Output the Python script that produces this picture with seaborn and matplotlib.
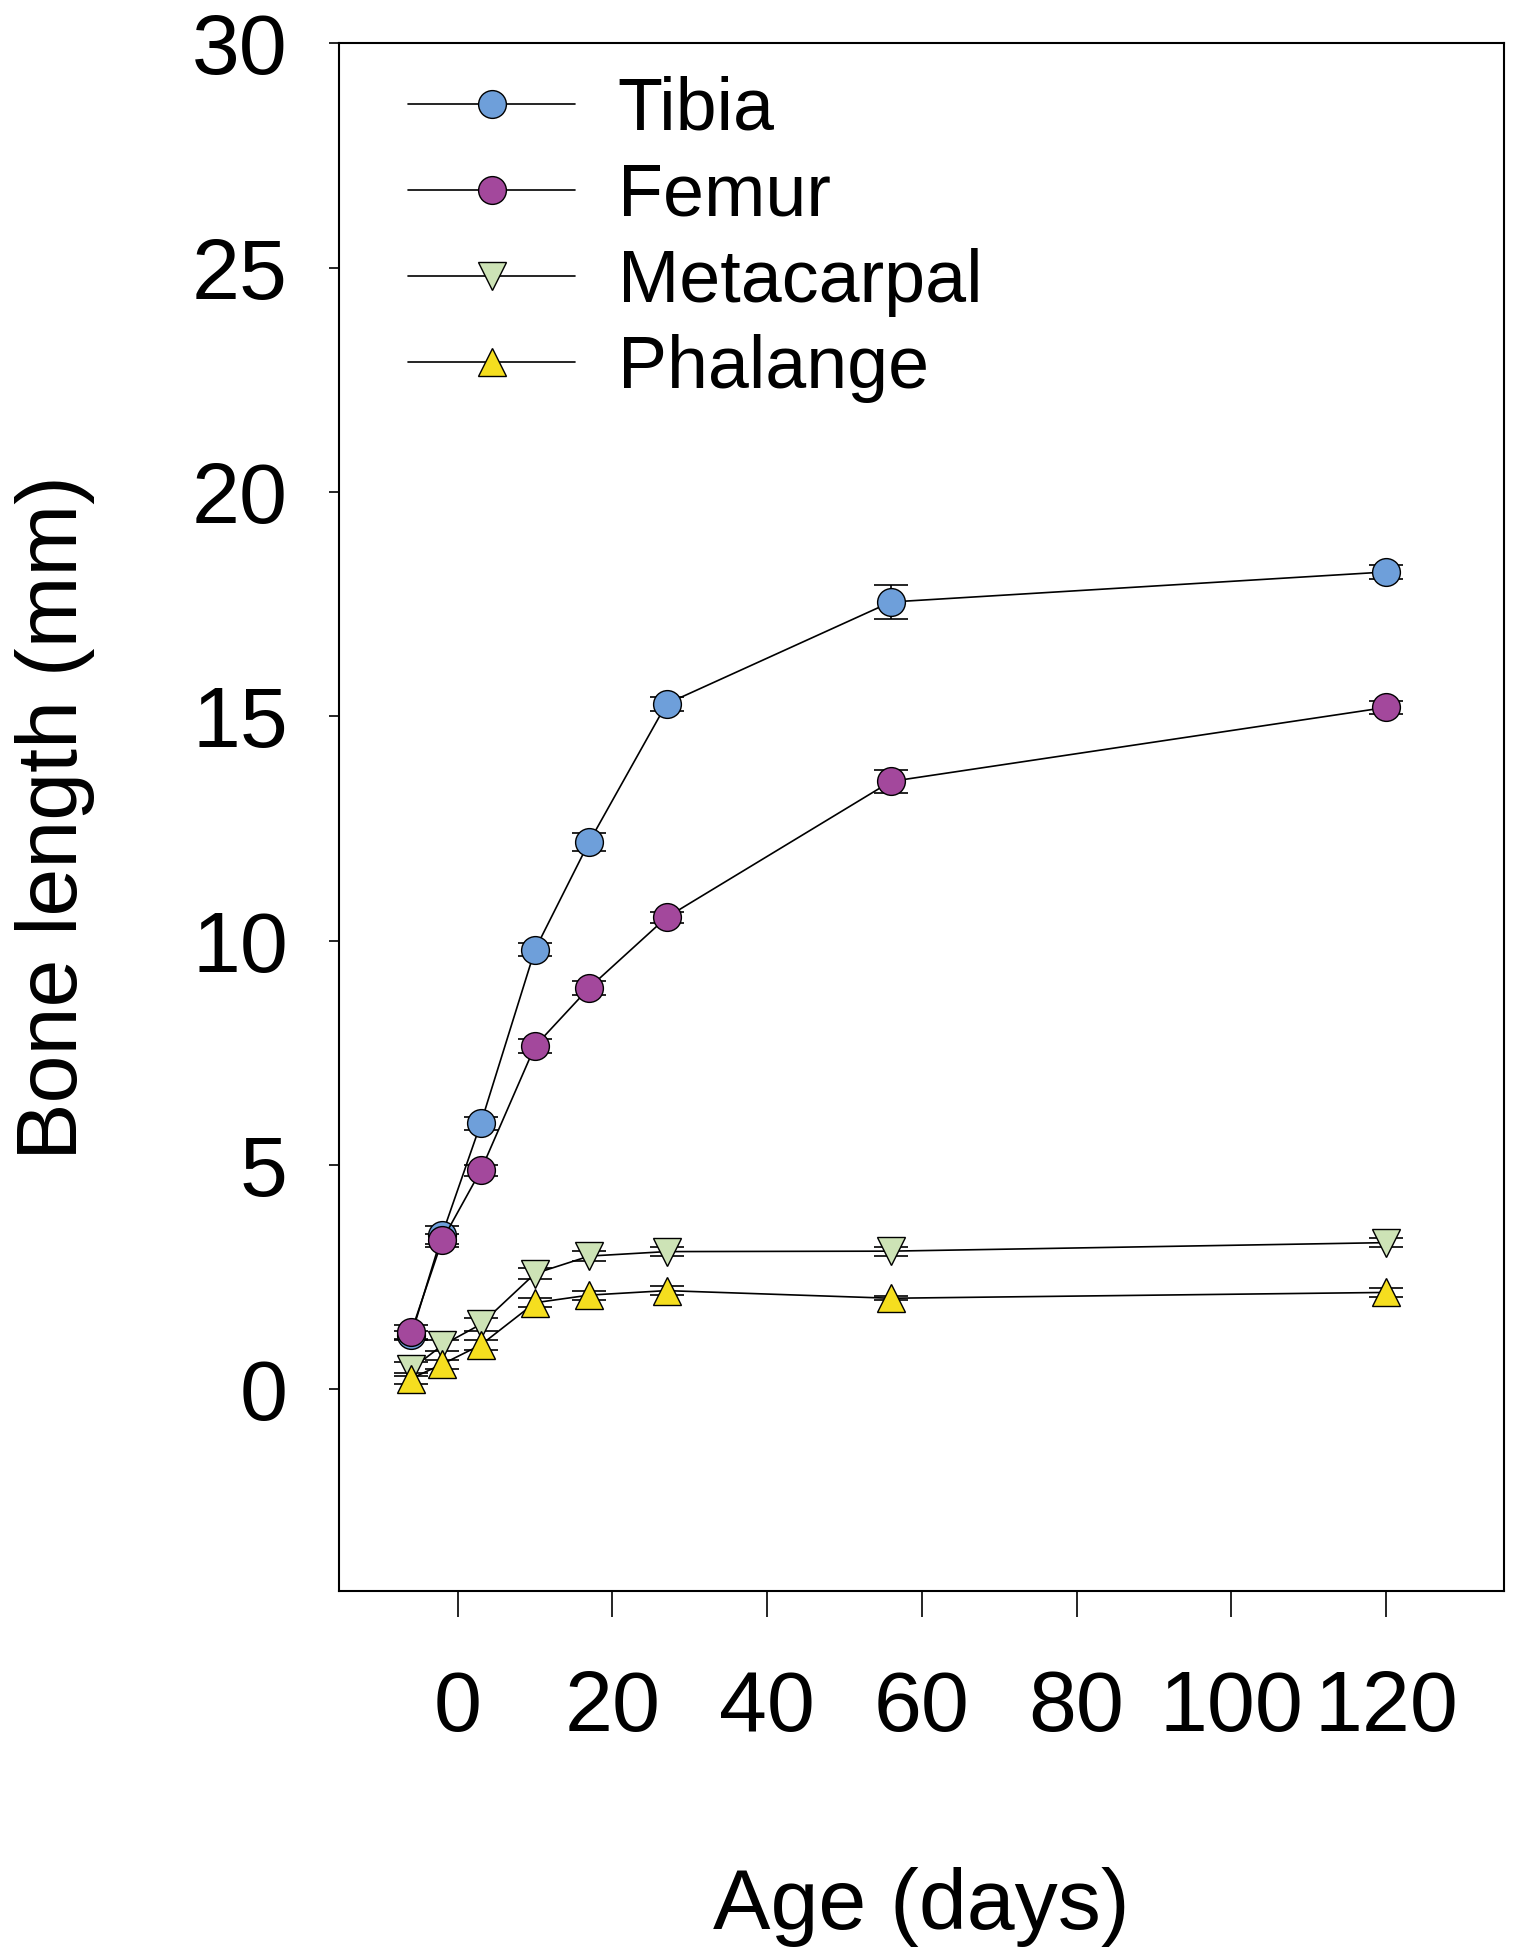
import matplotlib
matplotlib.use("Agg")
import matplotlib.pyplot as plt
import seaborn as sns
import pandas as pd

# ─── Data ─────────────────────────────────────────────────────────────────────
ages = [-6, -2, 3, 10, 17, 27, 56, 120]

tibia      = [1.20, 3.45, 5.93, 9.80, 12.20, 15.28, 17.55, 18.22]
tibia_err  = [0.10, 0.20, 0.15, 0.15, 0.20, 0.15, 0.37, 0.15]
femur      = [1.28, 3.32, 4.88, 7.65, 8.95, 10.52, 13.55, 15.20]
femur_err  = [0.15, 0.15, 0.12, 0.15, 0.15, 0.12, 0.25, 0.15]
metacarpal = [0.45, 0.98, 1.45, 2.58, 2.97, 3.07, 3.08, 3.27]
meta_err   = [0.15, 0.12, 0.15, 0.12, 0.12, 0.10, 0.10, 0.10]
phalange   = [0.24, 0.56, 0.99, 1.93, 2.10, 2.20, 2.03, 2.16]
phal_err   = [0.12, 0.10, 0.12, 0.10, 0.10, 0.10, 0.05, 0.10]

bones   = ["Tibia", "Femur", "Metacarpal", "Phalange"]
markers = ["o", "o", "v", "^"]
colors  = ["#6E9FDA", "#A3489C", "#CDE3B6", "#F5DE1F"]

x_ticks = [0, 20, 40, 60, 80, 100, 120]
y_ticks = [0, 5, 10, 15, 20, 25, 30]

# ─── Long-form table for seaborn ──────────────────────────────────────────────
frames = []
for name, vals, errs in zip(bones,
                            [tibia, femur, metacarpal, phalange],
                            [tibia_err, femur_err, meta_err, phal_err]):
    frames.append(pd.DataFrame({"age": ages, "length": vals,
                                "err": errs, "bone": name}))
df = pd.concat(frames, ignore_index=True)

# ─── Plot ─────────────────────────────────────────────────────────────────────
sns.set_style("ticks")
plt.rcParams["font.family"] = ["Liberation Sans", "DejaVu Sans"]
plt.rcParams["text.color"] = "black"
plt.rcParams["axes.labelcolor"] = "black"
plt.rcParams["xtick.color"] = "black"
plt.rcParams["ytick.color"] = "black"

fig = plt.figure(figsize=(15.18, 19.5), dpi=100)
ax = fig.add_subplot(111)
fig.subplots_adjust(left=0.2235, right=0.991, top=0.9777, bottom=0.184)

for name, mk, col in zip(bones, markers, colors):
    sub = df[df["bone"] == name]
    ax.errorbar(sub["age"], sub["length"], yerr=sub["err"], fmt="none",
                ecolor="black", elinewidth=1.2, capsize=12, capthick=1.2,
                zorder=2)
    sns.lineplot(data=sub, x="age", y="length", ax=ax, color="black",
                 lw=1.2, marker=mk, markersize=20, markerfacecolor=col,
                 markeredgecolor="black", markeredgewidth=1.0,
                 label=name, zorder=3, errorbar=None)

ax.set_xlim(-15.3, 135.3)
ax.set_ylim(-4.5, 30)
ax.set_xticks(x_ticks)
ax.set_yticks(y_ticks)

for side in ["top", "right", "left", "bottom"]:
    ax.spines[side].set_visible(True)
    ax.spines[side].set_linewidth(1.5)
    ax.spines[side].set_color("black")

ax.tick_params(axis="x", direction="out", length=19, width=1.2,
               labelsize=62, pad=37, colors="black")
ax.tick_params(axis="y", direction="out", length=7, width=1.2,
               labelsize=62, pad=30, colors="black")

ax.set_xlabel("Age (days)", fontsize=62, color="black")
ax.set_ylabel("Bone length (mm)", fontsize=62, color="black")
ax.xaxis.set_label_coords(0.5, -0.178)
ax.yaxis.set_label_coords(-0.21, 0.5)

leg = ax.legend(loc="upper left", bbox_to_anchor=(0.059, 0.979),
                frameon=False, fontsize=53, handlelength=2.27,
                handletextpad=0.58, labelspacing=0.23, borderpad=0,
                borderaxespad=0)
for t in leg.get_texts():
    t.set_color("black")

fig.savefig("out.png", dpi=100)
